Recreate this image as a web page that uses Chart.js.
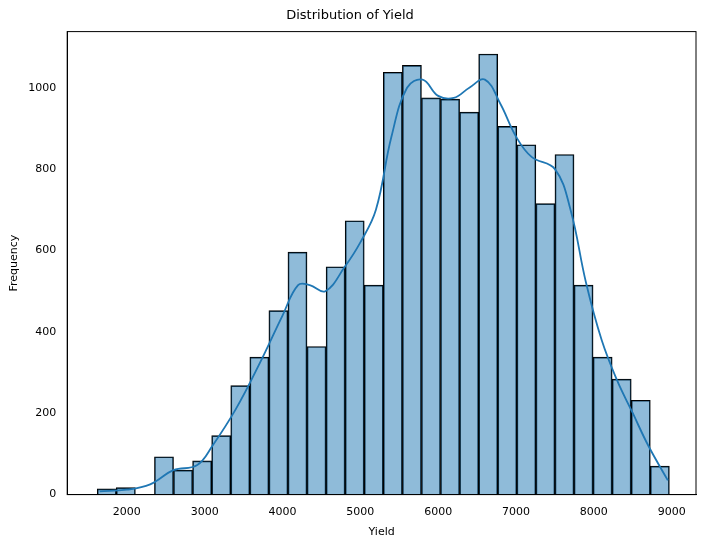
<!DOCTYPE html>
<html>
<head>
<meta charset="utf-8">
<script src="https://cdn.jsdelivr.net/npm/chart.js@4"></script>
<style>
  body { margin: 0; background: #fff; }
  #wrap { width: 704px; height: 547px; }
</style>
</head>
<body>
<div id="wrap"><canvas id="c"></canvas></div>
<script>
// histogram bins (start of range and width), counts
const binStart = 1620;
const binWidth = 245;
const counts = [14, 17, 0, 93, 60, 83, 145, 268, 338, 452, 596, 364, 560, 673, 515,
                1038, 1055, 975, 972, 940, 1083, 905, 860, 715, 836, 515, 338, 284, 232, 70];

// KDE curve, read by eye
const kdeX = [1650, 2000, 2300, 2600, 2900, 3100, 3400, 3700, 4000, 4200, 4350, 4550, 4800, 5000,
              5200, 5400, 5600, 5800, 6000, 6200, 6400, 6600, 6800, 7000, 7200, 7500, 7700, 7900,
              8100, 8300, 8500, 8700, 8950];
const kdeY = [8, 12, 25, 60, 72, 120, 210, 320, 440, 515, 515, 500, 560, 620,
              700, 880, 1000, 1020, 980, 975, 1000, 1020, 960, 880, 830, 800, 700, 520,
              380, 280, 200, 120, 35];

const xTicks = [2000, 3000, 4000, 5000, 6000, 7000, 8000, 9000];
const yTicks = [0, 200, 400, 600, 800, 1000];

const barData = counts.map((v, i) => ({ x: binStart + binWidth * (i + 0.5), y: v }));
const lineData = kdeX.map((x, i) => ({ x: x, y: kdeY[i] }));

Chart.defaults.font.family = 'DejaVu Sans';
Chart.defaults.color = '#000';

new Chart(document.getElementById('c'), {
  type: 'bar',
  data: {
    datasets: [
      {
        type: 'line',
        data: lineData,
        borderColor: '#1f77b4',
        borderWidth: 1.8,
        pointRadius: 0,
        tension: 0.4,
        fill: false
      },
      {
        data: barData,
        backgroundColor: 'rgba(31,119,180,0.5)',
        borderColor: '#000',
        borderWidth: 1,
        barPercentage: 1,
        categoryPercentage: 1,
        grouped: false
      }
    ]
  },
  options: {
    responsive: true,
    maintainAspectRatio: false,
    animation: false,
    layout: { padding: { left: 4, right: 8, top: 4, bottom: 4 } },
    plugins: {
      legend: { display: false },
      tooltip: { enabled: false },
      title: { display: true, text: 'Distribution of Yield', font: { size: 13, weight: 'normal' }, padding: { top: 4, bottom: 8 } }
    },
    scales: {
      x: {
        type: 'linear',
        offset: false,
        min: 1234, max: 9312,
        afterBuildTicks: s => { s.ticks = xTicks.map(v => ({ value: v })); },
        ticks: { font: { size: 11 }, callback: v => String(v) },
        grid: { display: false },
        border: { color: '#000' },
        title: { display: true, text: 'Yield', font: { size: 11 } }
      },
      y: {
        min: 0, max: 1138,
        afterBuildTicks: s => { s.ticks = yTicks.map(v => ({ value: v })); },
        ticks: { font: { size: 11 }, callback: v => String(v) },
        grid: { display: false },
        border: { color: '#000' },
        title: { display: true, text: 'Frequency', font: { size: 11 } }
      }
    }
  },
  plugins: [{
    id: 'frame',
    afterDraw(chart) {
      const { ctx, chartArea: a } = chart;
      ctx.save();
      ctx.strokeStyle = '#000';
      ctx.lineWidth = 1;
      ctx.strokeRect(a.left, a.top, a.right - a.left, a.bottom - a.top);
      ctx.restore();
    }
  }]
});
</script>
</body>
</html>
